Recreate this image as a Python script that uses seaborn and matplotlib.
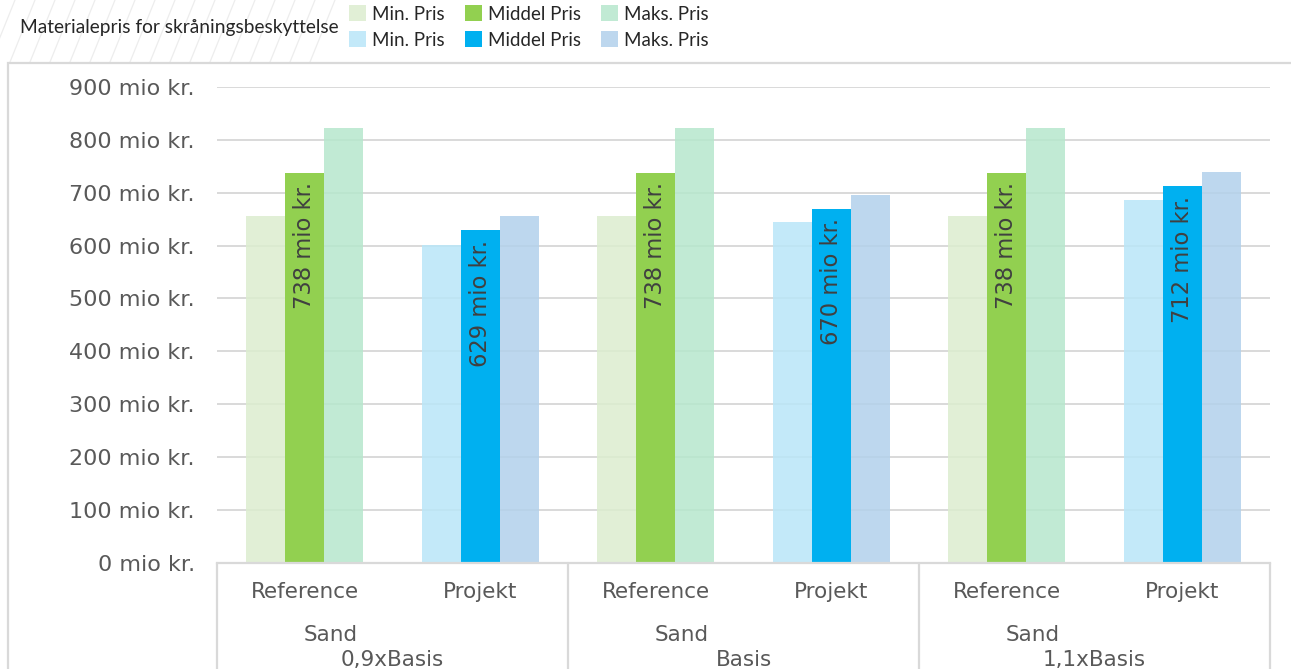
import matplotlib
matplotlib.use("Agg")
import numpy as np
import pandas as pd
import seaborn as sns
import matplotlib.pyplot as plt
import matplotlib.transforms as mtransforms
from matplotlib.patches import Patch, Rectangle
from matplotlib.lines import Line2D

# --- data -------------------------------------------------------------
scenarios = ["0,9xBasis", "Basis", "1,1xBasis"]
groups = ["Reference", "Projekt"]
material = "Sand"
levels = ["Min. Pris", "Middel Pris", "Maks. Pris"]

ref_min = [656, 656, 656]
ref_mid = [738, 738, 738]
ref_max = [823, 823, 823]
proj_min = [601, 645, 686]
proj_mid = [629, 670, 712]
proj_max = [655, 696, 739]

y_ticks = list(range(0, 901, 100))
title = "Materialepris for skråningsbeskyttelse"

# --- styling ----------------------------------------------------------
colors = {
    "Reference": ["#DCEDCF", "#92D050", "#B6E7CD"],
    "Projekt": ["#B9E6F8", "#00B0F0", "#B2D1EB"],
}
alphas = [0.85, 1.0, 0.85]
grid_col = "#D9D9D9"

# --- long table -------------------------------------------------------
values = {
    "Reference": [ref_min, ref_mid, ref_max],
    "Projekt": [proj_min, proj_mid, proj_max],
}
cat_keys = [f"{s}|{g}" for s in scenarios for g in groups]
rows = []
for s_i, s in enumerate(scenarios):
    for g in groups:
        for l_i, lvl in enumerate(levels):
            rows.append({"kategori": f"{s}|{g}", "niveau": lvl,
                         "pris": values[g][l_i][s_i]})
df = pd.DataFrame(rows)

sns.set_theme(style="white")
plt.rcParams["font.family"] = ["DejaVu Sans"]

W, H = 1291, 669
fig = plt.figure(figsize=(W / 100, H / 100), dpi=100)
fig.patch.set_facecolor("white")
ax = fig.add_axes([217 / W, 1 - 562.7 / H, (1270 - 217) / W, (562.7 - 87) / H])

sns.barplot(data=df, x="kategori", y="pris", hue="niveau", order=cat_keys,
            hue_order=levels, width=2 / 3, gap=0, errorbar=None,
            saturation=1, legend=False, ax=ax, zorder=2)

for l_i, cont in enumerate(ax.containers):
    for b_i, bar in enumerate(cont):
        g = groups[b_i % 2]
        bar.set_facecolor(colors[g][l_i])
        bar.set_alpha(alphas[l_i])
        bar.set_edgecolor("none")
        bar.set_linewidth(0)

# value labels on the middle price bars
mid_cont = ax.containers[1]
for b_i, bar in enumerate(mid_cont):
    g = groups[b_i % 2]
    v = values[g][1][b_i // 2]
    ax.annotate(f"{v} mio kr.", xy=(bar.get_x() + bar.get_width() / 2, v),
                xytext=(0, -7), textcoords="offset points", rotation=90,
                ha="center", va="top", fontsize=16.3, color="#404040", zorder=5)

# axes
ax.set_xlim(-0.5, 5.5)
ax.set_ylim(0, 900)
ax.set_yticks(y_ticks)
ax.set_yticklabels([f"{v} mio kr." for v in y_ticks])
ax.set_xticks(range(len(cat_keys)))
ax.set_xticklabels([k.split("|")[1] for k in cat_keys])
ax.set_xlabel("")
ax.set_ylabel("")
ax.tick_params(axis="y", length=0, pad=16, labelsize=16, labelcolor="#595959")
ax.tick_params(axis="x", length=0, pad=14, labelsize=15.5, labelcolor="#595959")
ax.yaxis.grid(True, color=grid_col, linewidth=1.4, zorder=0)
ax.set_axisbelow(True)
for side in ["left", "right", "top"]:
    ax.spines[side].set_visible(False)
ax.spines["bottom"].set_color(grid_col)
ax.spines["bottom"].set_linewidth(1.6)
ax.spines["bottom"].set_zorder(3)

# multi-level category axis
blend = mtransforms.blended_transform_factory(ax.transData, fig.transFigure)
y_axis = 1 - 562.7 / H
for x in [-0.5, 1.5, 3.5, 5.5]:
    ax.plot([x, x], [y_axis, -0.01], transform=blend, color=grid_col,
            linewidth=1.6, clip_on=False, zorder=3)
for s_i, s in enumerate(scenarios):
    c = 2 * s_i + 0.5
    ax.text(c - 0.35, 1 - 641 / H, material, transform=blend, ha="center",
            va="baseline", fontsize=15.5, color="#595959")
    ax.text(c, 1 - 666 / H, s, transform=blend, ha="center", va="baseline",
            fontsize=15.5, color="#595959")

# chart frame
fig.add_artist(Rectangle((8 / W, -0.05), 1.0, (1 - 63 / H) + 0.05,
                         transform=fig.transFigure, fill=False,
                         edgecolor=grid_col, linewidth=1.6))

# light diagonal pattern in the header strip
for x0 in range(-30, 330, 20):
    x_top, x_bot = x0 + 25, x0
    fig.add_artist(Line2D([x_bot / W, x_top / W], [1 - 62 / H, 1.0],
                          transform=fig.transFigure, color="#EDEDED",
                          linewidth=0.9, zorder=0))

# legend
fig.text(20 / W, 1 - 27 / H, title, fontfamily="Lato", fontsize=13.8,
         va="center", ha="left", color="#262626")
handles, labels = [], []
for l_i, lvl in enumerate(levels):
    for g in groups:
        handles.append(Patch(facecolor=colors[g][l_i], alpha=alphas[l_i],
                             edgecolor="none"))
        labels.append(lvl)
fig.legend(handles, labels, ncol=3, loc="upper left",
           bbox_to_anchor=(349 / W, 1 - 5 / H), frameon=False,
           prop={"family": "Lato", "size": 13.5}, handlelength=0.92,
           handleheight=0.95, handletextpad=0.32, columnspacing=1.05,
           labelspacing=0.45, borderpad=0, borderaxespad=0,
           labelcolor="#262626")

fig.savefig("out.png", dpi=100)
